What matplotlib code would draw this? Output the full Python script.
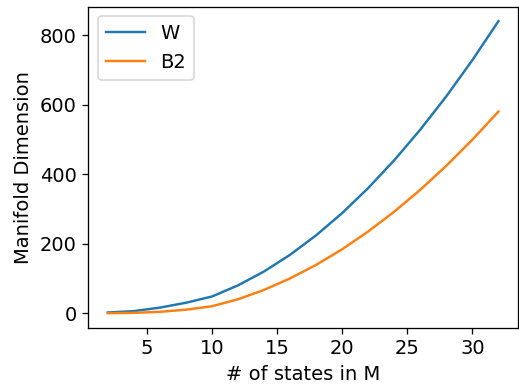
import matplotlib
matplotlib.use("Agg")
import matplotlib.pyplot as plt

states = [2, 4, 6, 8, 10, 12, 14, 16, 18, 20, 22, 24, 26, 28, 30, 32]
w_dim = [2, 6, 16, 30, 48, 80, 120, 168, 224, 288, 360, 440, 528, 624, 728, 840]
b2_dim = [0, 1, 4, 10, 20, 40, 67, 100, 139, 184, 235, 292, 355, 424, 499, 580]

DPI = 117
plt.rcParams['font.size'] = 12
fig = plt.figure(figsize=(519 / DPI, 387 / DPI), dpi=DPI)
ax = fig.add_axes([0.170, 0.153, 0.828, 0.830])
ax.plot(states, w_dim, color='#1f77b4', label='W')
ax.plot(states, b2_dim, color='#ff7f0e', label='B2')
ax.set_xlabel('# of states in M')
ax.set_ylabel('Manifold Dimension')
ax.set_xticks([5, 10, 15, 20, 25, 30])
ax.set_yticks([0, 200, 400, 600, 800])
ax.legend(loc='upper left')
fig.savefig('out.png', dpi=DPI)
